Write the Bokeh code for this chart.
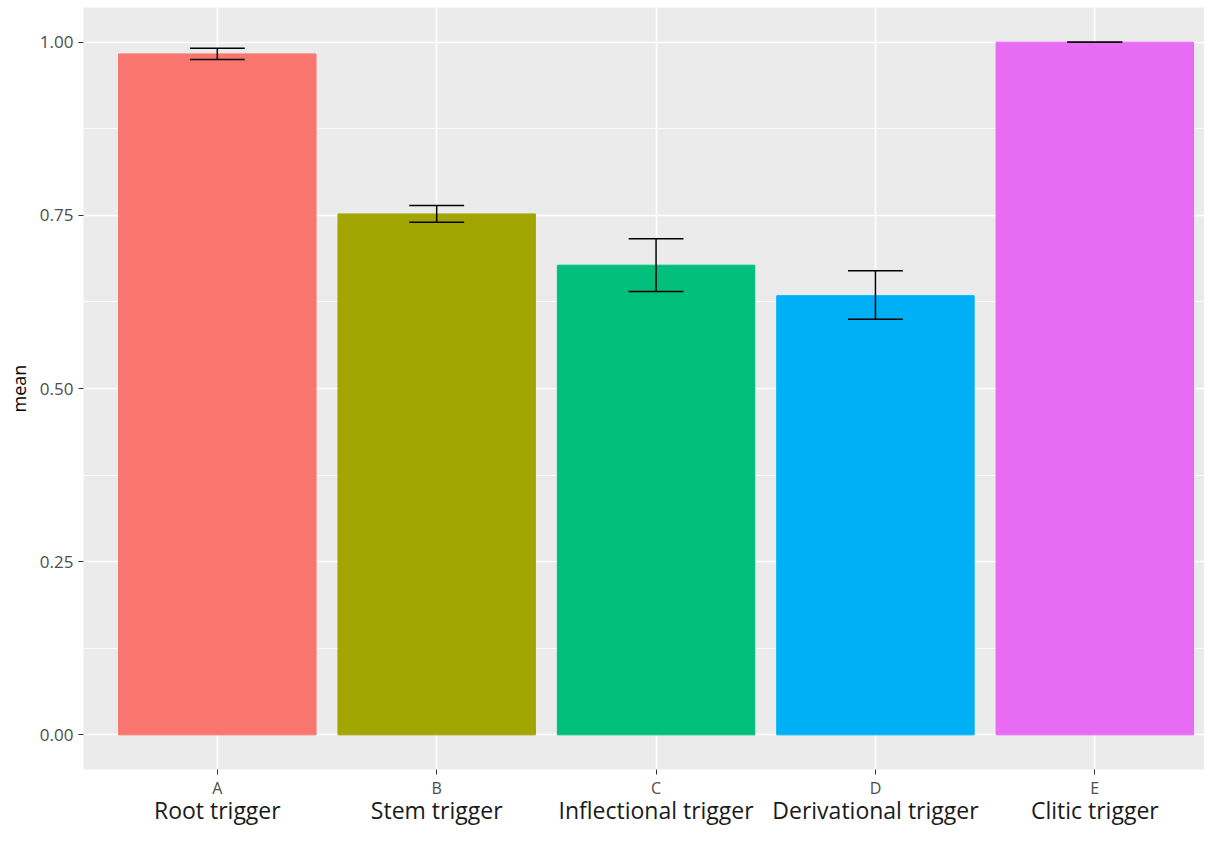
from bokeh.plotting import figure
from bokeh.models import Range1d, FixedTicker, LinearAxis, ColumnDataSource
from bokeh.embed import file_html
from bokeh.resources import INLINE

codes = ["A", "B", "C", "D", "E"]
names = ["Root trigger", "Stem trigger", "Inflectional trigger", "Derivational trigger", "Clitic trigger"]
means = [0.983, 0.752, 0.678, 0.634, 1.0]
lower = [0.975, 0.740, 0.640, 0.600, 1.0]
upper = [0.991, 0.764, 0.716, 0.670, 1.0]
colors = ["#F8766D", "#A3A500", "#00BF7D", "#00B0F6", "#E76BF3"]

xs = list(range(1, len(codes) + 1))
src = ColumnDataSource(dict(
    x=xs, top=means, lo=lower, hi=upper, color=colors,
    xl=[x - 0.125 for x in xs], xr=[x + 0.125 for x in xs],
))

FONT = "Open Sans"

p = figure(width=1204, height=828, output_backend="svg", toolbar_location=None,
           x_range=Range1d(0.39, 5.50), y_range=Range1d(-0.05, 1.05),
           min_border_left=83, min_border_top=7, min_border_right=0, min_border_bottom=40,
           x_axis_location=None, y_axis_location=None)
p.outline_line_color = None
p.background_fill_color = "#EBEBEB"
p.border_fill_color = "white"

p.vbar(x="x", top="top", bottom=0, width=0.9, color="color", source=src)
p.segment(x0="x", y0="lo", x1="x", y1="hi", line_color="black", line_width=1.5, source=src)
p.segment(x0="xl", y0="hi", x1="xr", y1="hi", line_color="black", line_width=1.5, source=src)
p.segment(x0="xl", y0="lo", x1="xr", y1="lo", line_color="black", line_width=1.5, source=src)

# y axis
yax = LinearAxis(ticker=FixedTicker(ticks=[0, 0.25, 0.5, 0.75, 1.0],
                                    minor_ticks=[-0.125, 0.125, 0.375, 0.625, 0.875, 1.125]))
yax.major_label_overrides = {0: "0.00", 0.25: "0.25", 0.5: "0.50", 0.75: "0.75", 1: "1.00"}
yax.axis_line_color = None
yax.minor_tick_line_color = None
yax.major_tick_line_color = "#333333"
yax.major_tick_in = 0
yax.major_tick_out = 5
yax.major_label_text_color = "#4D4D4D"
yax.major_label_text_font = FONT
yax.major_label_text_font_size = "17px"
yax.major_label_standoff = 5
yax.axis_label = "mean"
yax.axis_label_text_font = FONT
yax.axis_label_text_font_size = "18px"
yax.axis_label_text_font_style = "normal"
yax.axis_label_text_color = "black"
yax.axis_label_standoff = 6
p.add_layout(yax, "left")

# x axis: codes
xax = LinearAxis(ticker=FixedTicker(ticks=xs, minor_ticks=[]))
xax.major_label_overrides = {x: c for x, c in zip(xs, codes)}
xax.axis_line_color = None
xax.major_tick_line_color = "#333333"
xax.major_tick_in = 0
xax.major_tick_out = 5
xax.major_label_text_color = "#4D4D4D"
xax.major_label_text_font = FONT
xax.major_label_text_font_size = "16px"
xax.major_label_standoff = 2
p.add_layout(xax, "below")

# x axis: long names
xax2 = LinearAxis(ticker=FixedTicker(ticks=xs, minor_ticks=[]))
xax2.major_label_overrides = {x: n for x, n in zip(xs, names)}
xax2.axis_line_color = None
xax2.major_tick_line_color = None
xax2.major_tick_in = 0
xax2.major_tick_out = 0
xax2.major_label_text_color = "#1A1A1A"
xax2.major_label_text_font = FONT
xax2.major_label_text_font_size = "23px"
xax2.major_label_standoff = -8
p.add_layout(xax2, "below")

# grids
p.xgrid.ticker = FixedTicker(ticks=xs)
p.xgrid.grid_line_color = "white"
p.xgrid.grid_line_width = 1.6
p.ygrid.ticker = yax.ticker
p.ygrid.grid_line_color = "white"
p.ygrid.grid_line_width = 1.6
p.ygrid.minor_grid_line_color = "white"
p.ygrid.minor_grid_line_width = 0.8

open("out.html", "w").write(file_html(p, INLINE))
